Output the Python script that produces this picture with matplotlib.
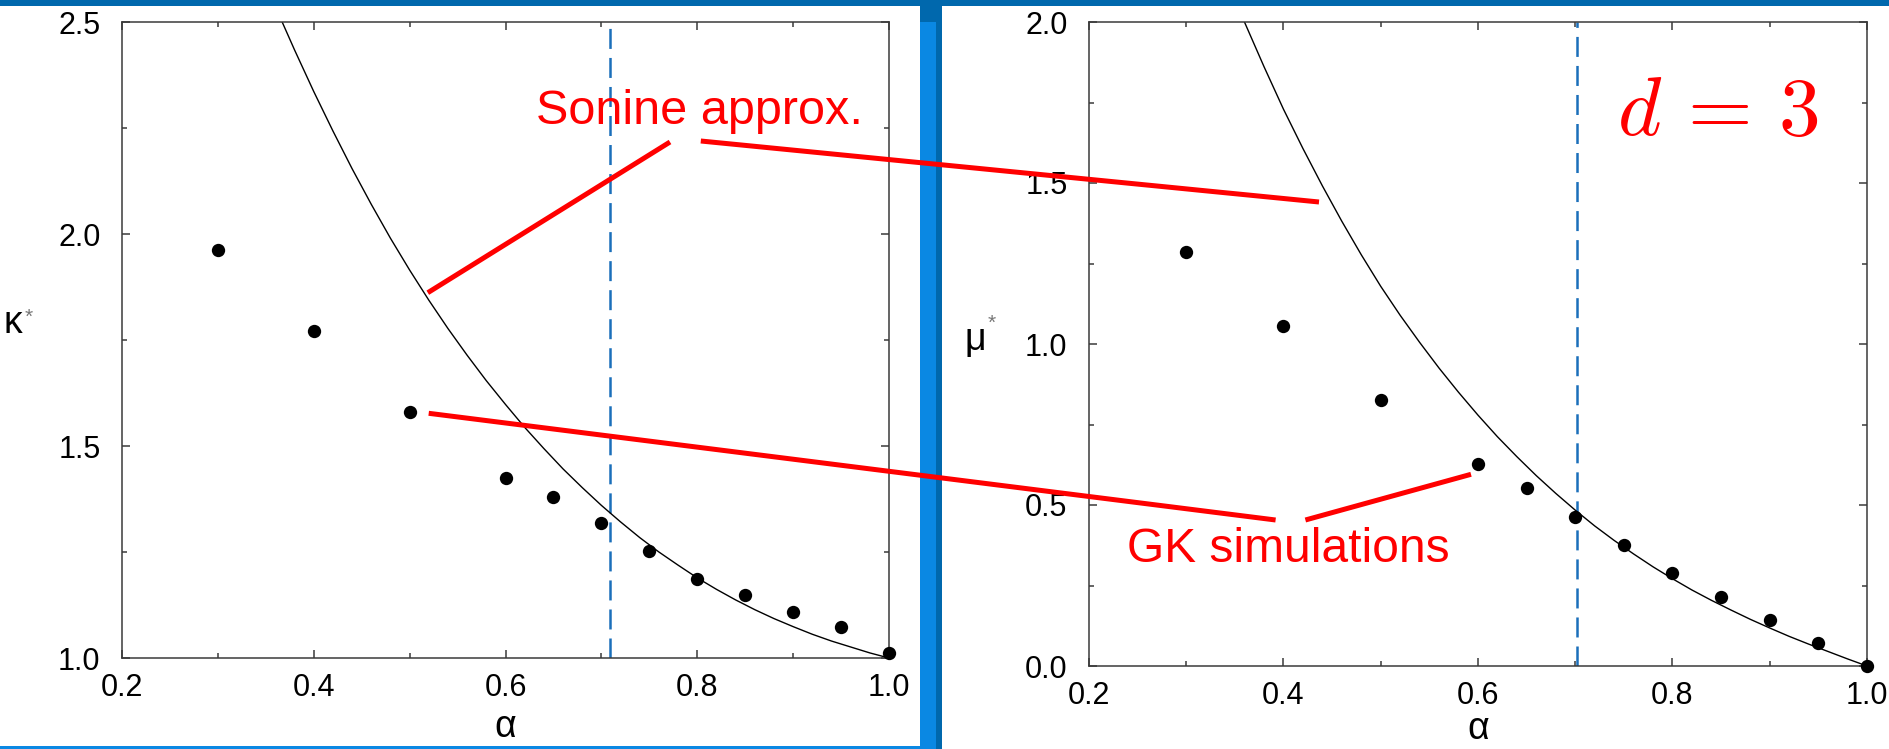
import matplotlib
matplotlib.use('Agg')
import matplotlib.pyplot as plt
from matplotlib.patches import Rectangle
from matplotlib.lines import Line2D
from matplotlib.ticker import MultipleLocator

# ---------------- data ----------------
alpha_sim = [0.3, 0.4, 0.5, 0.6, 0.65, 0.7, 0.75, 0.8, 0.85, 0.9, 0.95, 1.0]
kappa_sim = [1.962, 1.772, 1.581, 1.425, 1.379, 1.318, 1.253, 1.186, 1.149, 1.108, 1.074, 1.011]
mu_sim = [1.286, 1.056, 0.827, 0.628, 0.554, 0.464, 0.377, 0.290, 0.215, 0.143, 0.072, 0.0]

alpha_kappa_curve = [0.36, 0.38, 0.40, 0.42, 0.44, 0.46, 0.48, 0.50, 0.52, 0.54, 0.56,
                     0.58, 0.60, 0.62, 0.64, 0.66, 0.68, 0.70, 0.72, 0.74, 0.76, 0.78,
                     0.80, 0.82, 0.84, 0.86, 0.88, 0.90, 0.92, 0.94, 0.96, 0.98, 1.00]
kappa_curve = [2.536, 2.434, 2.336, 2.243, 2.154, 2.070, 1.990, 1.915, 1.844, 1.777, 1.714,
               1.654, 1.598, 1.544, 1.494, 1.446, 1.402, 1.360, 1.321, 1.284, 1.250, 1.219,
               1.189, 1.162, 1.137, 1.114, 1.093, 1.074, 1.056, 1.040, 1.026, 1.012, 1.000]

alpha_mu_curve = [0.36, 0.38, 0.40, 0.42, 0.44, 0.46, 0.48, 0.50, 0.52, 0.54, 0.56,
                  0.58, 0.60, 0.62, 0.64, 0.66, 0.68, 0.70, 0.72, 0.74, 0.76, 0.78,
                  0.80, 0.82, 0.84, 0.86, 0.88, 0.90, 0.92, 0.94, 0.96, 0.98, 1.00]
mu_curve = [1.999, 1.861, 1.729, 1.607, 1.491, 1.381, 1.277, 1.179, 1.089, 1.005, 0.925,
            0.850, 0.779, 0.712, 0.650, 0.591, 0.536, 0.484, 0.435, 0.390, 0.348, 0.308,
            0.271, 0.236, 0.204, 0.174, 0.145, 0.118, 0.092, 0.068, 0.045, 0.022, 0.000]

alpha_dash_kappa = 0.709
alpha_dash_mu = 0.702

xticks = [0.2, 0.4, 0.6, 0.8, 1.0]
xtick_labels = ['0.2', '0.4', '0.6', '0.8', '1.0']
kappa_ticks = [1.0, 1.5, 2.0, 2.5]
kappa_tick_labels = ['1.0', '1.5', '2.0', '2.5']
mu_ticks = [0.0, 0.5, 1.0, 1.5, 2.0]
mu_tick_labels = ['0.0', '0.5', '1.0', '1.5', '2.0']

# ---------------- figure ----------------
W, H, DPI = 1890, 749, 100
plt.rcParams['font.family'] = ['Liberation Sans', 'DejaVu Sans']
plt.rcParams['lines.scale_dashes'] = False

fig = plt.figure(figsize=(W / DPI, H / DPI), dpi=DPI, facecolor='white')


def fx(x):
    return x / W


def fy(y):
    return 1 - y / H


DARK_BLUE = '#0068ad'
LIGHT_BLUE = '#0a88e3'


def rect(x0, y0, x1, y1, color):
    fig.add_artist(Rectangle((fx(x0), fy(y1)), fx(x1) - fx(x0), fy(y0) - fy(y1),
                             transform=fig.transFigure, facecolor=color,
                             edgecolor='none', zorder=-5))


rect(0, 0, W, 6, DARK_BLUE)
rect(920, 6, 942, 22, DARK_BLUE)
rect(920, 22, 936, H, LIGHT_BLUE)
rect(936, 22, 942, H, DARK_BLUE)
rect(0, 746, 936, H, LIGHT_BLUE)

SPINE = '#3a3a3a'


def style_axes(ax, yt, ytl, ymin, ymax):
    ax.set_xlim(0.2, 1.0)
    ax.set_ylim(ymin, ymax)
    ax.set_xticks(xticks)
    ax.set_xticklabels(xtick_labels)
    ax.set_yticks(yt)
    ax.set_yticklabels(ytl)
    ax.xaxis.set_minor_locator(MultipleLocator(0.1))
    ax.yaxis.set_minor_locator(MultipleLocator(0.25))
    for s in ax.spines.values():
        s.set_linewidth(1.1)
        s.set_color(SPINE)
    ax.tick_params(which='both', direction='in', top=True, right=True,
                   color=SPINE, width=1.1, labelsize=22, labelcolor='black')
    ax.tick_params(which='major', length=5.8)
    ax.tick_params(which='minor', length=3.6)
    ax.tick_params(axis='y', which='both', pad=15.5)
    ax.tick_params(axis='x', which='both', pad=10.5)


# left axes: kappa*
axL = fig.add_axes([fx(122), fy(658), fx(889) - fx(122), fy(22) - fy(658)])
style_axes(axL, kappa_ticks, kappa_tick_labels, 1.0, 2.5)
axL.plot(alpha_kappa_curve, kappa_curve, color='black', lw=1.0, zorder=2)
axL.axvline(alpha_dash_kappa, color='#1a6fba', lw=1.8, dashes=(14.4, 6.5), zorder=1)
axL.scatter(alpha_sim, kappa_sim, s=92, c='black', zorder=3, clip_on=False,
            linewidths=0)

# right axes: mu*
axR = fig.add_axes([fx(1089), fy(666), fx(1867) - fx(1089), fy(22) - fy(666)])
style_axes(axR, mu_ticks, mu_tick_labels, 0.0, 2.0)
axR.plot(alpha_mu_curve, mu_curve, color='black', lw=1.0, zorder=2)
axR.axvline(alpha_dash_mu, color='#1a6fba', lw=1.8, dashes=(14.4, 6.5), zorder=1)
axR.scatter(alpha_sim, mu_sim, s=92, c='black', zorder=3, clip_on=False,
            linewidths=0)

# axis labels
fig.text(fx((122 + 889) / 2), fy(737), 'α', fontsize=27, ha='center', va='baseline')
fig.text(fx((1089 + 1867) / 2), fy(739), 'α', fontsize=27, ha='center', va='baseline')
fig.text(fx(4), fy(333), 'κ', fontsize=27, ha='left', va='baseline')
fig.text(fx(25), fy(323), '*', fontsize=15, color='#777777', ha='left', va='baseline')
fig.text(fx(965), fy(350), 'μ', fontsize=27, ha='left', va='baseline')
fig.text(fx(988), fy(329), '*', fontsize=15, color='#777777', ha='left', va='baseline')

# red annotations
RED = '#ff0000'
for (x0, y0, x1, y1) in [(427.8, 292.7, 670, 142), (700.8, 141, 1319, 202),
                         (428.7, 413.3, 1275.6, 520), (1305.4, 520, 1471, 474.3)]:
    fig.add_artist(Line2D([fx(x0), fx(x1)], [fy(y0), fy(y1)], transform=fig.transFigure,
                          color=RED, lw=3.6, solid_capstyle='butt', zorder=10))

fig.text(fx(699), fy(123.7), 'Sonine approx.', fontsize=35, color=RED,
         ha='center', va='baseline', zorder=11)
fig.text(fx(1288.5), fy(562), 'GK simulations', fontsize=34.5, color=RED,
         ha='center', va='baseline', zorder=11)
fig.text(fx(1718), fy(135), r'$d\,=\,3$', fontsize=60, color=RED, math_fontfamily='cm',
         ha='center', va='baseline', zorder=11)

fig.savefig('out.png', dpi=DPI, facecolor='white')
